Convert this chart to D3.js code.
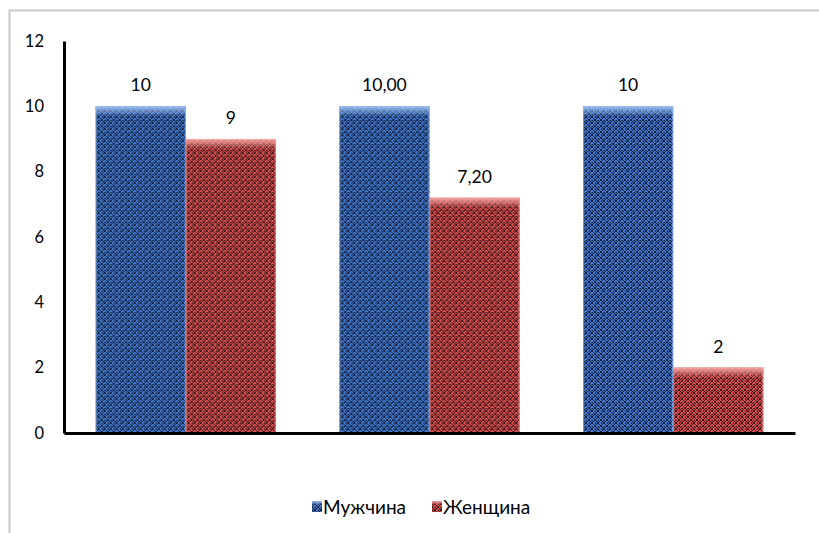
<!DOCTYPE html>
<html><head><meta charset="utf-8">
<script src="https://cdn.jsdelivr.net/npm/d3@7"></script>
<style>body{margin:0;background:#fff;}svg{display:block;font-family:Lato,"Open Sans",sans-serif;}</style>
</head><body>
<svg id="c" width="819" height="533"></svg>
<script>
const categories = ["A", "B", "C"];
const seriesNames = ["Мужчина", "Женщина"];
const men = [10, 10, 10];
const women = [9, 7.2, 2];
const menLabels = ["10", "10,00", "10"];
const womenLabels = ["9", "7,20", "2"];
const yTicks = [0, 2, 4, 6, 8, 10, 12];

const svg = d3.select("#c");
const colors = ["#4279d0", "#dc4f4c"];
const light = ["#9cc0f4", "#f7a3a0"];

// frame
svg.append("rect").attr("x", 9.5).attr("y", 10.5).attr("width", 830).attr("height", 540)
  .attr("fill", "none").attr("stroke", "#c8c8c8").attr("stroke-width", 2);

const defs = svg.append("defs");
colors.forEach((c, i) => {
  const p = defs.append("pattern").attr("id", "pat" + i).attr("patternUnits", "userSpaceOnUse")
    .attr("width", 6).attr("height", 6);
  p.append("rect").attr("width", 6).attr("height", 6).attr("fill", c);
  p.append("path").attr("d", "M0,0L6,6M6,0L0,6").attr("stroke", "#050510").attr("stroke-width", 0.9).attr("opacity", 0.85);
  p.append("rect").attr("x", 2.5).attr("y", 0).attr("width", 1.2).attr("height", 1.2).attr("fill", "#000");
  p.append("rect").attr("x", 0).attr("y", 2.5).attr("width", 1.2).attr("height", 1.2).attr("fill", "#000");
  const g = defs.append("linearGradient").attr("id", "hl" + i).attr("x1", 0).attr("y1", 0).attr("x2", 0).attr("y2", 1);
  g.append("stop").attr("offset", 0).attr("stop-color", light[i]).attr("stop-opacity", 1);
  g.append("stop").attr("offset", 1).attr("stop-color", light[i]).attr("stop-opacity", 0);
});

const x0 = d3.scaleBand().domain(categories).range([64, 795]).paddingInner(0.26).paddingOuter(0.13);
const x1 = d3.scaleBand().domain(seriesNames).range([0, x0.bandwidth()]);
const y = d3.scaleLinear().domain([0, 12]).range([433, 41]);

const data = categories.map((c, i) => ({c, vals: [
  {s: seriesNames[0], v: men[i], lab: menLabels[i], k: 0},
  {s: seriesNames[1], v: women[i], lab: womenLabels[i], k: 1}]}));

const groups = svg.selectAll("g.grp").data(data).join("g").attr("class", "grp")
  .attr("transform", d => `translate(${x0(d.c)},0)`);

groups.each(function(d) {
  const g = d3.select(this);
  d.vals.forEach(b => {
    const bx = x1(b.s), by = y(b.v), bw = x1.bandwidth(), bh = y(0) - y(b.v);
    g.append("rect").attr("x", bx).attr("y", by).attr("width", bw).attr("height", bh)
      .attr("fill", `url(#pat${b.k})`);
    g.append("rect").attr("x", bx).attr("y", by).attr("width", bw).attr("height", Math.min(10, bh))
      .attr("fill", `url(#hl${b.k})`);
    g.append("rect").attr("x", bx + 0.5).attr("y", by + 0.5).attr("width", bw - 1).attr("height", bh - 1)
      .attr("fill", "none").attr("stroke", light[b.k]).attr("stroke-opacity", 0.6);
    g.append("text").attr("x", bx + bw / 2).attr("y", by - 15).attr("text-anchor", "middle")
      .attr("font-size", 17.5).attr("fill", "#000").text(b.lab);
  });
});

// axes
const yAxis = d3.axisLeft(y).tickValues(yTicks).tickSize(0).tickPadding(20).tickFormat(d3.format("d"));
const ya = svg.append("g").attr("transform", "translate(64,0)").call(yAxis);
ya.select(".domain").attr("stroke", "#000").attr("stroke-width", 3);
ya.selectAll("text").attr("font-size", 16.5).attr("fill", "#000").attr("font-family", "Lato,'Open Sans',sans-serif");

const xAxis = d3.axisBottom(x0).tickSize(0).tickFormat("");
const xa = svg.append("g").attr("transform", "translate(0,433)").call(xAxis);
xa.select(".domain").attr("stroke", "#000").attr("stroke-width", 3);

// legend
const legend = svg.append("g").attr("transform", "translate(312,507)");
const legItems = [{s: seriesNames[0], k: 0, x: 0}, {s: seriesNames[1], k: 1, x: 120}];
legItems.forEach(l => {
  const g = legend.append("g").attr("transform", `translate(${l.x},0)`);
  g.append("rect").attr("x", 0).attr("y", -6).attr("width", 10).attr("height", 11).attr("fill", `url(#pat${l.k})`);
  g.append("rect").attr("x", 0).attr("y", -6).attr("width", 10).attr("height", 4).attr("fill", `url(#hl${l.k})`);
  g.append("text").attr("x", 11).attr("y", 6.5).attr("font-size", 19).attr("fill", "#000").text(l.s);
});
</script>
</body></html>
